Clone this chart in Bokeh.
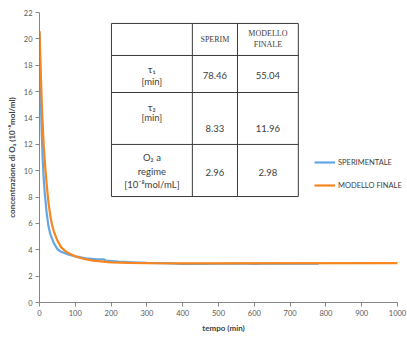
from bokeh.plotting import figure
from bokeh.models import Legend, LegendItem, Range1d, FixedTicker
from bokeh.embed import file_html
from bokeh.resources import INLINE
from bokeh.core.properties import value

# ---- data ----
t_sper = [0, 3, 6, 9, 12, 15, 20, 25, 30, 40, 50, 60, 80, 100, 130, 160, 180, 185,
          220, 260, 300, 350, 400, 450, 500, 550, 600, 650, 700, 780]
c_sper = [20.5, 16.0, 13.0, 10.8, 9.3, 8.2, 6.8, 5.8, 5.2, 4.5, 4.05, 3.85, 3.65, 3.5,
          3.35, 3.27, 3.27, 3.17, 3.1, 3.05, 3.0, 2.98, 2.93, 2.93, 2.94, 2.96, 2.93,
          2.96, 2.94, 2.95]
t_mod = [0, 4, 8, 12, 16, 20, 25, 30, 35, 40, 50, 60, 70, 80, 100, 125, 150, 200,
         250, 300, 400, 1000]
c_mod = [20.6, 17.0, 14.0, 11.8, 10.3, 9.0, 7.6, 6.6, 5.9, 5.4, 4.7, 4.2, 3.95, 3.75,
         3.5, 3.3, 3.18, 3.05, 3.0, 2.98, 2.97, 2.98]
series_names = ["SPERIMENTALE", "MODELLO FINALE"]
x_ticks = list(range(0, 1001, 100))
y_ticks = list(range(0, 23, 2))

tab_header = ["", "SPERIM", "MODELLO\nFINALE"]
tab_sper = ["78.46", "8.33", "2.96"]
tab_mod = ["55.04", "11.96", "2.98"]

FONT = "Lato"
BLUE = "#65A6E4"
ORANGE = "#F7861F"
TXT = "#404040"

# frame extends past x=1000 so the legend labels are not clipped;
# the axis line itself stops at 1000 (bounds)
p = figure(width=407, height=338, x_range=Range1d(0, 1027.9), y_range=Range1d(0, 22),
           output_backend="svg", toolbar_location=None,
           min_border_left=39, min_border_right=0, min_border_top=12, min_border_bottom=36)
p.outline_line_color = None
p.xgrid.visible = False
p.ygrid.visible = False
p.background_fill_color = "white"
p.border_fill_color = "white"

for ax in (p.xaxis[0], p.yaxis[0]):
    ax.axis_line_color = "#868686"
    ax.major_tick_line_color = "#868686"
    ax.minor_tick_line_color = None
    ax.major_tick_in = 0
    ax.major_tick_out = 4
    ax.major_label_text_font = FONT
    ax.major_label_text_font_size = "7.5px"
    ax.major_label_text_color = "#595959"
    ax.major_label_standoff = 3
    ax.axis_label_text_font = FONT
    ax.axis_label_text_font_size = "8px"
    ax.axis_label_text_font_style = "bold"
    ax.axis_label_text_color = TXT
    ax.axis_label_standoff = 4
p.xaxis.ticker = FixedTicker(ticks=x_ticks)
p.yaxis.ticker = FixedTicker(ticks=y_ticks)
p.xaxis.bounds = (0, 1000)
p.xaxis.axis_label = "tempo (min)"
p.yaxis.axis_label = "concentrazione di O\u2082 (10\u207b\u2078mol/ml)"

r1 = p.line(t_sper, c_sper, line_color=BLUE, line_width=2.2)
r2 = p.line(t_mod, c_mod, line_color=ORANGE, line_width=2.2)

# ---- inset table (data units) ----
xe = [201, 427, 553, 723]
ye = [21.17, 18.74, 15.93, 11.99, 8.04]
p.quad(left=xe[0], right=xe[-1], bottom=ye[-1], top=ye[0], fill_color="white",
       line_color="#3a3a3a", line_width=1)
p.segment(x0=xe[1:3], x1=xe[1:3], y0=[ye[0]] * 2, y1=[ye[-1]] * 2,
          line_color="#3a3a3a", line_width=1)
p.segment(x0=[xe[0]] * 3, x1=[xe[-1]] * 3, y0=ye[1:4], y1=ye[1:4],
          line_color="#3a3a3a", line_width=1)

xc = [(xe[i] + xe[i + 1]) / 2 for i in range(3)]

serif = dict(text_font=value("Liberation Serif"), text_font_size="8px",
             text_color=TXT, text_align="center", text_baseline="middle")
p.text(x=[xc[1], xc[2], xc[2]], y=[19.95, 20.41, 19.57],
       text=[tab_header[1]] + tab_header[2].split("\n"), **serif)

sans = dict(text_font=value(FONT), text_font_size="9.5px",
            text_color=TXT, text_align="center", text_baseline="middle")
p.text(x=[xc[0]] * 7, y=[17.68, 16.77, 14.79, 14.03, 11.0, 9.94, 8.95],
       text=["\u03c4\u2081", "[min]", "\u03c4\u2082", "[min]", "O\u2082 a", "regime",
             "[10\u207b\u2078mol/mL]"], **sans)
p.text(x=[xc[1]] * 3, y=[17.22, 13.2, 9.86], text=tab_sper, **sans)
p.text(x=[xc[2]] * 3, y=[17.22, 13.2, 9.86], text=tab_mod, **sans)

legend = Legend(items=[LegendItem(label=series_names[0], renderers=[r1]),
                       LegendItem(label=series_names[1], renderers=[r2])],
                location=(275, 111), orientation="vertical",
                glyph_width=21, glyph_height=12, label_height=12, spacing=11,
                padding=0, margin=0, label_standoff=3,
                border_line_color=None, background_fill_alpha=0,
                label_text_font=FONT, label_text_font_size="7.5px",
                label_text_color=TXT)
p.add_layout(legend)

open("out.html", "w").write(file_html(p, INLINE))
